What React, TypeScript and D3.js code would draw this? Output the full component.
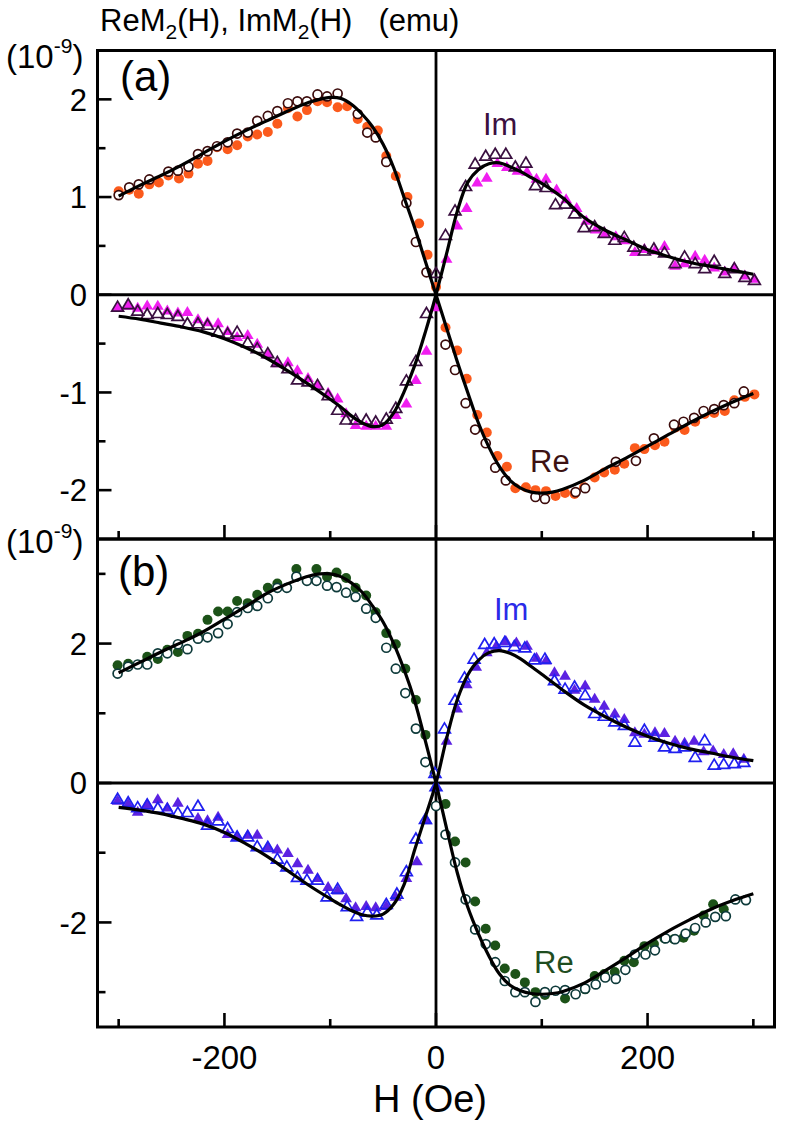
import React from "react";
import * as d3 from "d3";

// ---------- DATA ----------
type P = [number, number];

// x axis ticks
const xMajorTicks = [-200, 0, 200];
const xMinorTicks = [-300, -100, 100, 300];
const xTickLabels = ["-200", "0", "200"];

// panel (a) y ticks
const aMajorTicks = [-2, -1, 0, 1, 2];
const aMinorTicks = [-1.5, -0.5, 0.5, 1.5];
const aTickLabels = ["-2", "-1", "0", "1", "2"];
// panel (b) y ticks
const bMajorTicks = [-2, 0, 2];
const bMinorTicks = [-3, -1, 1, 3];
const bTickLabels = ["-2", "0", "2"];

// Panel (a) fit curves
const reAFit: P[] = [[-300,1.01],[-280,1.12],[-260,1.22],[-240,1.33],[-220,1.45],[-200,1.57],[-180,1.68],[-160,1.78],[-140,1.88],[-120,1.97],[-110,2.0],[-100,2.02],[-90,2.01],[-80,1.95],[-70,1.85],[-60,1.72],[-50,1.54],[-40,1.3],[-30,0.99],[-20,0.68],[-10,0.34],[0,0],[10,-0.34],[20,-0.68],[30,-1.0],[40,-1.31],[50,-1.56],[60,-1.76],[70,-1.9],[80,-1.98],[90,-2.02],[100,-2.03],[110,-2.02],[120,-1.99],[140,-1.9],[160,-1.78],[180,-1.67],[200,-1.55],[220,-1.43],[240,-1.31],[260,-1.2],[280,-1.1],[300,-1.01]];
const imAFit: P[] = [[-300,-0.22],[-280,-0.25],[-260,-0.29],[-240,-0.33],[-220,-0.38],[-200,-0.45],[-180,-0.54],[-160,-0.65],[-140,-0.78],[-120,-0.92],[-100,-1.07],[-90,-1.15],[-80,-1.24],[-70,-1.31],[-60,-1.35],[-50,-1.33],[-40,-1.21],[-30,-0.99],[-20,-0.72],[-10,-0.38],[0,0],[10,0.42],[20,0.85],[30,1.15],[40,1.28],[50,1.34],[60,1.35],[70,1.31],[80,1.26],[90,1.2],[100,1.14],[120,0.99],[140,0.79],[160,0.66],[180,0.56],[200,0.46],[220,0.39],[240,0.33],[260,0.29],[280,0.25],[300,0.21]];

// Panel (a) data
const reAOpen: P[] = [[-300,1.02],[-290,1.1],[-281,1.13],[-271,1.18],[-253,1.26],[-244,1.27],[-234,1.31],[-225,1.44],[-216,1.47],[-207,1.52],[-197,1.56],[-188,1.65],[-178,1.66],[-169,1.78],[-159,1.83],[-150,1.88],[-140,1.96],[-131,1.98],[-122,1.98],[-112,2.05],[-103,2.03],[-93,2.06],[-74,1.85],[-65,1.66],[-57,1.61],[-47,1.36],[-28,0.94],[-19,0.54],[-9,0.23],[9,-0.51],[18,-0.77],[28,-1.11],[37,-1.38],[47,-1.52],[56,-1.77],[66,-1.9],[94,-2.07],[103,-2.09],[132,-2.02],[141,-1.98],[170,-1.71],[189,-1.7],[206,-1.47],[225,-1.33],[234,-1.3],[244,-1.26],[253,-1.19],[263,-1.17],[272,-1.13],[282,-1.11],[291,-0.99]];
const reAFilled: P[] = [[-300,1.06],[-290,1.075],[-281,1.035],[-271,1.13],[-262,1.15],[-253,1.22],[-243,1.19],[-234,1.24],[-225,1.34],[-216,1.37],[-207,1.51],[-197,1.49],[-188,1.53],[-178,1.62],[-169,1.64],[-159,1.665],[-150,1.75],[-140,1.91],[-131,1.825],[-122,1.89],[-112,1.98],[-103,1.97],[-93,1.92],[-84,1.93],[-74,1.8],[-65,1.72],[-55,1.68],[-47,1.42],[-38,1.215],[-27,1.0],[-16,0.73],[-8,0.41],[0,0.08],[9,-0.335],[20,-0.57],[29,-0.86],[39,-1.23],[48,-1.41],[58,-1.65],[67,-1.76],[75,-1.98],[85,-1.97],[94,-2.0],[104,-2.01],[113,-2.06],[122,-2.03],[131,-2.04],[140,-1.97],[150,-1.87],[159,-1.82],[169,-1.79],[178,-1.73],[188,-1.57],[197,-1.58],[207,-1.54],[216,-1.505],[226,-1.36],[235,-1.385],[245,-1.3],[254,-1.22],[263,-1.21],[273,-1.19],[282,-1.08],[292,-1.045],[301,-1.02]];
const imAOpen: P[] = [[-301,-0.125],[-291,-0.1],[-282,-0.165],[-273,-0.2],[-263,-0.19],[-254,-0.2],[-244,-0.22],[-235,-0.295],[-225,-0.295],[-216,-0.31],[-206,-0.38],[-197,-0.4],[-188,-0.38],[-178,-0.49],[-169,-0.55],[-159,-0.6],[-150,-0.69],[-140,-0.755],[-131,-0.87],[-121,-0.89],[-112,-0.925],[-102,-1.03],[-93,-1.18],[-85,-1.28],[-76,-1.28],[-66,-1.28],[-57,-1.3],[-47,-1.27],[-38,-1.16],[-28,-0.88],[-19,-0.68],[-9,-0.19],[0,0.22],[9,0.61],[18,0.86],[28,1.11],[37,1.34],[47,1.42],[56,1.44],[66,1.44],[75,1.31],[85,1.35],[94,1.12],[104,1.1],[113,0.925],[122,0.93],[131,0.83],[140,0.69],[150,0.7],[159,0.63],[169,0.56],[178,0.59],[187,0.49],[197,0.45],[206,0.47],[216,0.43],[226,0.32],[235,0.39],[245,0.32],[254,0.27],[263,0.345],[273,0.22],[282,0.27],[292,0.18],[301,0.15]];
const imAFilled: P[] = [[-301,-0.13],[-291,-0.11],[-282,-0.13],[-273,-0.107],[-263,-0.11],[-254,-0.16],[-244,-0.18],[-235,-0.175],[-225,-0.25],[-216,-0.28],[-206,-0.29],[-197,-0.37],[-188,-0.43],[-178,-0.41],[-169,-0.5],[-159,-0.61],[-150,-0.7],[-140,-0.69],[-131,-0.77],[-121,-0.85],[-112,-0.92],[-102,-1.0],[-93,-1.06],[-85,-1.21],[-76,-1.33],[-66,-1.34],[-57,-1.34],[-47,-1.34],[-38,-1.23],[-28,-1.11],[-19,-0.87],[-9,-0.57],[-1,-0.125],[10,0.37],[20,0.71],[29,0.89],[39,1.15],[48,1.2],[58,1.35],[67,1.31],[77,1.27],[86,1.26],[95,1.19],[104,1.19],[114,1.08],[123,0.98],[133,0.89],[142,0.76],[151,0.67],[160,0.63],[170,0.6],[178,0.56],[188,0.44],[197,0.47],[207,0.455],[216,0.5],[226,0.3],[235,0.325],[245,0.4],[254,0.36],[263,0.28],[273,0.24],[282,0.28],[292,0.2],[301,0.165]];

// Panel (b) fit curves
const reBFit: P[] = [[-300,1.58],[-280,1.73],[-260,1.88],[-240,2.02],[-220,2.17],[-200,2.35],[-180,2.53],[-160,2.72],[-140,2.86],[-120,2.97],[-110,3.0],[-100,3.0],[-90,2.96],[-80,2.87],[-70,2.74],[-60,2.54],[-50,2.31],[-40,2.0],[-30,1.62],[-20,1.17],[-10,0.6],[0,0],[10,-0.65],[20,-1.28],[30,-1.78],[40,-2.16],[50,-2.48],[60,-2.74],[70,-2.9],[80,-2.98],[90,-3.02],[100,-3.03],[110,-3.02],[120,-2.99],[140,-2.87],[160,-2.69],[180,-2.5],[200,-2.3],[220,-2.12],[240,-1.96],[260,-1.81],[280,-1.69],[300,-1.59]];
const imBFit: P[] = [[-300,-0.35],[-280,-0.39],[-260,-0.44],[-240,-0.51],[-220,-0.59],[-200,-0.71],[-180,-0.87],[-160,-1.05],[-140,-1.26],[-120,-1.47],[-100,-1.66],[-90,-1.75],[-80,-1.83],[-70,-1.89],[-60,-1.91],[-50,-1.88],[-40,-1.74],[-30,-1.45],[-20,-0.95],[-10,-0.48],[0,0],[10,0.64],[20,1.19],[30,1.55],[40,1.76],[50,1.87],[60,1.9],[70,1.86],[80,1.78],[90,1.67],[100,1.56],[120,1.33],[140,1.12],[160,0.95],[180,0.8],[200,0.67],[220,0.57],[240,0.49],[260,0.43],[280,0.37],[300,0.32]];

// Panel (b) data
const reBOpen: P[] = [[-301,1.57],[-291,1.67],[-282,1.7],[-273,1.7],[-263,1.86],[-254,1.86],[-244,1.99],[-235,1.92],[-225,2.07],[-216,2.09],[-206,2.15],[-197,2.28],[-188,2.45],[-178,2.51],[-169,2.54],[-159,2.65],[-150,2.8],[-141,2.8],[-132,2.96],[-122,2.9],[-113,2.9],[-103,2.83],[-94,2.81],[-85,2.73],[-76,2.67],[-66,2.5],[-57,2.37],[-47,1.94],[-38,1.64],[-29,1.29],[-19,0.78],[-10,0.3],[-1,0.14],[0,-0.33],[9,-0.74],[18,-1.14],[28,-1.67],[37,-2.1],[47,-2.31],[56,-2.57],[65,-2.84],[75,-3.0],[84,-3.0],[94,-3.14],[103,-3.0],[113,-2.98],[122,-2.97],[132,-3.03],[141,-2.95],[151,-2.89],[160,-2.79],[170,-2.81],[179,-2.68],[188,-2.46],[198,-2.46],[207,-2.4],[217,-2.23],[226,-2.24],[236,-2.16],[245,-2.08],[255,-2.0],[264,-1.92],[274,-1.91],[283,-1.67],[293,-1.68]];
const reBFilled: P[] = [[-301,1.69],[-291,1.71],[-273,1.81],[-263,1.78],[-254,1.91],[-244,1.88],[-235,2.11],[-225,2.14],[-216,2.34],[-206,2.46],[-197,2.46],[-188,2.61],[-178,2.58],[-169,2.7],[-159,2.8],[-150,2.86],[-132,3.07],[-113,3.07],[-103,2.96],[-94,3.02],[-85,2.94],[-76,2.8],[-66,2.69],[-57,2.45],[-47,2.15],[-38,1.99],[-29,1.64],[-19,1.19],[-10,0.69],[9,-0.3],[18,-0.84],[28,-1.14],[37,-1.7],[47,-2.09],[56,-2.33],[65,-2.66],[75,-2.74],[84,-2.86],[94,-3.0],[103,-3.04],[122,-3.09],[141,-2.96],[150,-2.77],[159,-2.74],[169,-2.71],[178,-2.55],[187,-2.57],[197,-2.34],[206,-2.31],[216,-2.23],[225,-2.24],[234,-2.22],[244,-2.12],[253,-1.9],[262,-1.74],[272,-1.81]];
const imBOpen: P[] = [[-301,-0.23],[-291,-0.28],[-282,-0.35],[-273,-0.31],[-263,-0.36],[-254,-0.38],[-244,-0.43],[-235,-0.42],[-225,-0.33],[-216,-0.6],[-206,-0.54],[-197,-0.65],[-188,-0.77],[-178,-0.77],[-169,-0.91],[-159,-0.92],[-150,-1.09],[-141,-1.2],[-131,-1.35],[-122,-1.39],[-112,-1.39],[-103,-1.63],[-93,-1.52],[-84,-1.77],[-75,-1.91],[-65,-1.85],[-56,-1.89],[-47,-1.74],[-37,-1.59],[-28,-1.27],[-19,-0.8],[-10,-0.52],[0,-0.05],[-1,0.14],[8,0.78],[18,1.19],[27,1.51],[36,1.78],[46,1.99],[55,2.0],[65,2.02],[74,1.96],[84,1.94],[93,1.77],[103,1.78],[112,1.47],[122,1.35],[131,1.38],[141,1.26],[150,1.0],[159,0.96],[169,0.88],[178,0.83],[188,0.59],[197,0.76],[207,0.66],[216,0.52],[226,0.5],[235,0.52],[245,0.37],[254,0.61],[263,0.26],[272,0.27],[282,0.28],[291,0.3]];
const imBFilled: P[] = [[-301,-0.25],[-291,-0.3],[-282,-0.41],[-273,-0.3],[-263,-0.23],[-254,-0.35],[-244,-0.28],[-225,-0.5],[-216,-0.53],[-206,-0.48],[-197,-0.73],[-188,-0.76],[-178,-0.74],[-169,-0.74],[-159,-0.91],[-150,-0.95],[-140,-1.0],[-131,-1.15],[-121,-1.24],[-112,-1.36],[-102,-1.49],[-93,-1.54],[-85,-1.65],[-76,-1.78],[-66,-1.76],[-57,-1.78],[-47,-1.76],[-38,-1.63],[-28,-1.36],[-18,-1.12],[-9,-0.53],[0,-0.05],[10,0.61],[20,1.07],[29,1.42],[38,1.67],[48,1.88],[57,1.97],[66,2.04],[76,2.02],[86,1.97],[95,1.8],[104,1.76],[112,1.59],[122,1.54],[131,1.34],[141,1.4],[150,1.21],[159,1.11],[169,1.0],[178,0.92],[188,0.73],[197,0.71],[207,0.73],[216,0.72],[226,0.61],[235,0.58],[244,0.61],[253,0.46],[262,0.47],[272,0.42],[281,0.43],[291,0.35]];

// ---------- LAYOUT ----------
const W = 785;
const Ht = 1131;
const FONT = "'Liberation Sans', Arial, Helvetica, sans-serif";
const left = 97.5;
const right = 774.5;
const aTop = 50.5;
const aBot = 539;
const bTop = 539;
const bBot = 1027;

const x = d3.scaleLinear().domain([-320, 320]).range([left, right]);
const yA = d3.scaleLinear().domain([-2.5, 2.5]).range([aBot, aTop]);
const yB = d3.scaleLinear().domain([-3.5, 3.5]).range([bBot, bTop]);

const tri = "M0,-5.8L5.9,4.2L-5.9,4.2Z";

function Panel({
  y, majors, minors, labels, fits, filled, open, top, bot,
}: {
  y: d3.ScaleLinear<number, number>;
  majors: number[]; minors: number[]; labels: string[];
  fits: P[][];
  filled: { data: P[]; color: string; shape: "c" | "t" }[];
  open: { data: P[]; color: string; shape: "c" | "t" }[];
  top: number; bot: number;
}) {
  const line = d3.line<P>().x((d) => x(d[0])).y((d) => y(d[1])).curve(d3.curveCatmullRom.alpha(0.5));
  return (
    <g>
      <line x1={left} x2={right} y1={y(0)} y2={y(0)} stroke="#000" strokeWidth={2.8} />
      <line x1={x(0)} x2={x(0)} y1={top} y2={bot} stroke="#000" strokeWidth={2.8} />
      {filled.map((s, i) => (
        <g key={"f" + i}>
          {s.data.map((d, j) =>
            s.shape === "c" ? (
              <circle key={j} cx={x(d[0])} cy={y(d[1])} r={5} fill={s.color} />
            ) : (
              <path key={j} d={tri} transform={`translate(${x(d[0])},${y(d[1])})`} fill={s.color} />
            )
          )}
        </g>
      ))}
      {open.map((s, i) => (
        <g key={"o" + i}>
          {s.data.map((d, j) =>
            s.shape === "c" ? (
              <circle key={j} cx={x(d[0])} cy={y(d[1])} r={4.5} fill="#fff" stroke={s.color} strokeWidth={1.7} />
            ) : (
              <path key={j} d={tri} transform={`translate(${x(d[0])},${y(d[1])})`} fill="none" stroke={s.color} strokeWidth={1.7} />
            )
          )}
        </g>
      ))}
      {fits.map((f, i) => (
        <path key={"l" + i} d={line(f) || ""} fill="none" stroke="#000" strokeWidth={3.2} />
      ))}
      {majors.map((t) => (
        <line key={"ym" + t} x1={left} x2={left + 14} y1={y(t)} y2={y(t)} stroke="#000" strokeWidth={2.6} />
      ))}
      {minors.map((t) => (
        <line key={"yn" + t} x1={left} x2={left + 8} y1={y(t)} y2={y(t)} stroke="#000" strokeWidth={2.6} />
      ))}
      {majors.map((t, i) => (
        <text key={"yl" + t} x={87} y={y(t)} dy="0.36em" textAnchor="end" fontSize={31} fontFamily={FONT}>
          {labels[i]}
        </text>
      ))}
      {xMajorTicks.map((t) => (
        <line key={"xm" + t} x1={x(t)} x2={x(t)} y1={bot} y2={bot - 14} stroke="#000" strokeWidth={2.6} />
      ))}
      {xMinorTicks.map((t) => (
        <line key={"xn" + t} x1={x(t)} x2={x(t)} y1={bot} y2={bot - 8} stroke="#000" strokeWidth={2.6} />
      ))}
      <rect x={left} y={top} width={right - left} height={bot - top} fill="none" stroke="#000" strokeWidth={3} />
    </g>
  );
}

export default function App() {
  return (
    <div style={{ position: "absolute", left: 0, top: 0 }}>
      <svg width={W} height={Ht} viewBox={`0 0 ${W} ${Ht}`} style={{ display: "block", background: "#fff" }}>
        <rect width={W} height={Ht} fill="#fff" />
        <Panel
          y={yA}
          majors={aMajorTicks}
          minors={aMinorTicks}
          labels={aTickLabels}
          fits={[reAFit, imAFit]}
          filled={[
            { data: reAFilled, color: "#fb5a1c", shape: "c" },
            { data: imAFilled, color: "#f01ef0", shape: "t" },
          ]}
          open={[
            { data: reAOpen, color: "#3c0c0c", shape: "c" },
            { data: imAOpen, color: "#3a1040", shape: "t" },
          ]}
          top={aTop}
          bot={aBot}
        />
        <Panel
          y={yB}
          majors={bMajorTicks}
          minors={bMinorTicks}
          labels={bTickLabels}
          fits={[reBFit, imBFit]}
          filled={[
            { data: reBFilled, color: "#1c5218", shape: "c" },
            { data: imBFilled, color: "#5b22e2", shape: "t" },
          ]}
          open={[
            { data: reBOpen, color: "#0e3a3a", shape: "c" },
            { data: imBOpen, color: "#2020f0", shape: "t" },
          ]}
          top={bTop}
          bot={bBot}
        />

        {xMajorTicks.map((t, i) => (
          <text key={"xl" + t} x={x(t)} y={1069} textAnchor="middle" fontSize={33} fontFamily={FONT}>
            {xTickLabels[i]}
          </text>
        ))}
        <text x={430} y={1112} textAnchor="middle" fontSize={38} fontFamily={FONT}>H (Oe)</text>

        <text x={100} y={31} fontSize={31} fontFamily={FONT}>
          ReM<tspan fontSize={21} dy={8}>2</tspan>
          <tspan dy={-8}>(H), ImM</tspan>
          <tspan fontSize={21} dy={8}>2</tspan>
          <tspan dy={-8}>(H)</tspan>
          <tspan dx={26}>(emu)</tspan>
        </text>

        <text x={6} y={68} fontSize={33} fontFamily={FONT}>
          (10<tspan fontSize={21} dy={-15}>-9</tspan>
          <tspan dy={15}>)</tspan>
        </text>
        <text x={6} y={553} fontSize={33} fontFamily={FONT}>
          (10<tspan fontSize={21} dy={-15}>-9</tspan>
          <tspan dy={15}>)</tspan>
        </text>

        <text x={120} y={91} fontSize={42} fontFamily={FONT}>(a)</text>
        <text x={118} y={586} fontSize={42} fontFamily={FONT}>(b)</text>

        <text x={483} y={135} fontSize={31} fontFamily={FONT} fill="#3b1040">Im</text>
        <text x={530} y={472} fontSize={31} fontFamily={FONT} fill="#3d1212">Re</text>
        <text x={494} y={620} fontSize={31} fontFamily={FONT} fill="#2a2ae8">Im</text>
        <text x={534} y={973} fontSize={31} fontFamily={FONT} fill="#1f4d1f">Re</text>
      </svg>
    </div>
  );
}
